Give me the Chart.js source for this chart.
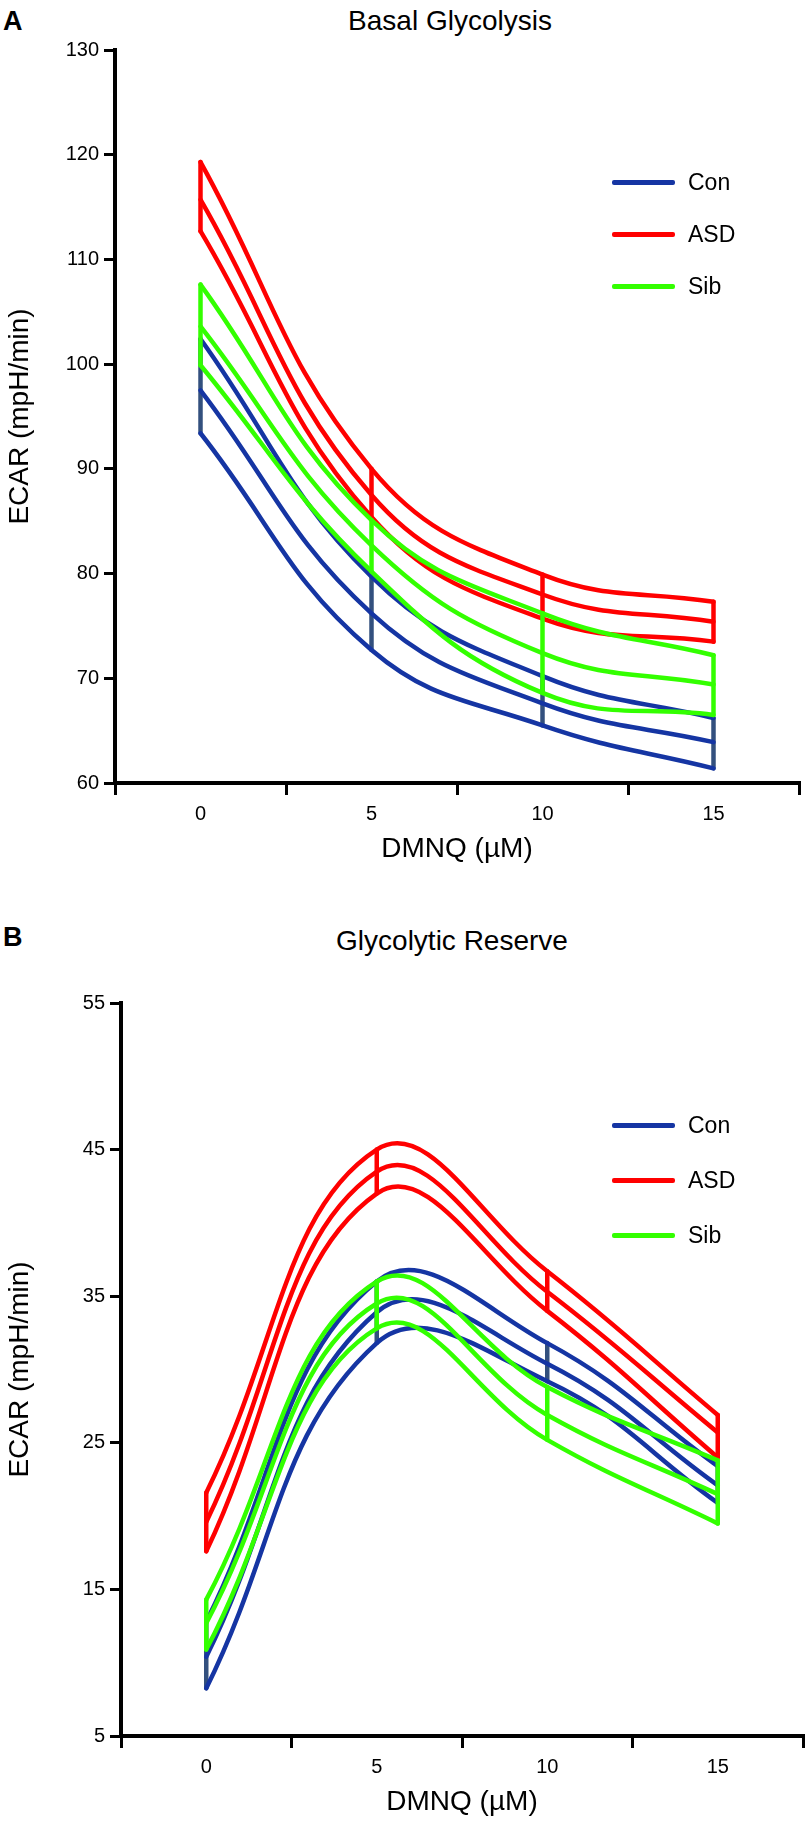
<!DOCTYPE html>
<html>
<head>
<meta charset="utf-8">
<script src="https://cdn.jsdelivr.net/npm/chart.js@4.4.1/dist/chart.umd.min.js"></script>
<style>
  html, body { margin: 0; padding: 0; background: #ffffff; }
  #wrap { position: relative; width: 810px; height: 1823px; overflow: hidden; }
  .abs { position: absolute; }
  .letter { font-family: "Liberation Sans", Arial, sans-serif; font-weight: bold; font-size: 27px; line-height: 1; color: #000; }
  .ctitle { font-family: "Liberation Sans Narrow", "Liberation Sans", Arial, sans-serif; font-size: 28px; line-height: 1; color: #000; white-space: nowrap; transform: translateX(-50%); }
  .leg-line { position: absolute; height: 5px; border-radius: 2px; }
  .leg-text { position: absolute; font-family: "Liberation Sans", Arial, sans-serif; font-size: 23px; line-height: 1; color: #000; }
</style>
</head>
<body>
<div id="wrap">
  <div class="abs letter" style="left:3px;top:8px;">A</div>
  <div class="abs ctitle" style="left:450px;top:7px;">Basal Glycolysis</div>
  <div class="abs" style="left:0;top:0;width:810px;height:870px;"><canvas id="chartA" width="810" height="870"></canvas></div>
  <div id="legendA"></div>

  <div class="abs letter" style="left:3px;top:924px;">B</div>
  <div class="abs ctitle" style="left:452px;top:927px;">Glycolytic Reserve</div>
  <div class="abs" style="left:0;top:880px;width:810px;height:943px;"><canvas id="chartB" width="810" height="943"></canvas></div>
  <div id="legendB"></div>
</div>
<script>
// ---------------- data ----------------
const xValues = [0, 5, 10, 15];
const xTickLabels = [0, 5, 10, 15];
const seriesNames = ['Con', 'ASD', 'Sib'];
const seriesColors = ['#1535a3', '#ff0000', '#33ff00'];
const connectorColors = ['#33507e', '#ff0000', '#33ff00'];

// Panel A: Basal Glycolysis (ECAR, mpH/min)
const yTicksA = [60, 70, 80, 90, 100, 110, 120, 130];
const aConUpper = [102.4, 79.7, 70.2, 66.2];
const aConMean  = [97.5, 76.2, 67.6, 63.9];
const aConLower = [93.4, 72.7, 65.5, 61.4];
const aAsdUpper = [119.3, 90.0, 79.9, 77.3];
const aAsdMean  = [115.7, 87.5, 78.0, 75.4];
const aAsdLower = [112.7, 85.4, 75.7, 73.5];
const aSibUpper = [107.6, 85.1, 76.2, 72.2];
const aSibMean  = [103.6, 82.7, 72.4, 69.4];
const aSibLower = [99.9, 80.2, 68.6, 66.5];

// Panel B: Glycolytic Reserve (ECAR, mpH/min)
const yTicksB = [5, 15, 25, 35, 45, 55];
const bConUpper = [12.8, 36.0, 31.8, 23.4];
const bConMean  = [10.4, 33.9, 30.4, 22.1];
const bConLower = [8.25, 31.8, 29.2, 20.9];
const bAsdUpper = [21.6, 45.0, 36.7, 26.9];
const bAsdMean  = [19.6, 43.5, 35.3, 25.7];
const bAsdLower = [17.6, 42.0, 34.0, 24.0];
const bSibUpper = [14.3, 36.0, 28.8, 23.8];
const bSibMean  = [12.7, 34.5, 26.9, 21.5];
const bSibLower = [10.9, 32.8, 25.2, 19.5];

// ---------------- helpers ----------------
function buildDatasets(groups) {
  const ds = [];
  groups.forEach((g, gi) => {
    const ord = 3 - gi; // Con drawn first, Sib on top
    [g.upper, g.mean, g.lower].forEach(arr => {
      ds.push({
        data: xValues.map((x, i) => ({ x: x, y: arr[i] })),
        borderColor: seriesColors[gi],
        borderWidth: 4.5,
        pointRadius: 0,
        tension: 0.42,
        fill: false,
        order: ord,
        borderCapStyle: 'round',
        borderJoinStyle: 'round'
      });
    });
    xValues.forEach((x, i) => {
      ds.push({
        data: [{ x: x, y: g.lower[i] }, { x: x, y: g.upper[i] }],
        borderColor: connectorColors[gi],
        borderWidth: 4.5,
        pointRadius: 0,
        tension: 0,
        fill: false,
        order: ord,
        borderCapStyle: 'round'
      });
    });
  });
  return ds;
}

function makeChart(canvasId, groups, yTicks, padTop, padRight, xAxisH, yAxisW) {
  const yMin = yTicks[0], yMax = yTicks[yTicks.length - 1];
  const yStep = yTicks[1] - yTicks[0];
  return new Chart(document.getElementById(canvasId), {
    type: 'line',
    data: { datasets: buildDatasets(groups) },
    options: {
      responsive: false,
      animation: false,
      devicePixelRatio: 1,
      layout: { padding: { top: padTop, right: padRight, bottom: 0, left: 0 } },
      plugins: { legend: { display: false }, tooltip: { enabled: false }, title: { display: false } },
      scales: {
        x: {
          type: 'linear',
          min: -2.5, max: 17.5,
          afterFit: s => { s.height = xAxisH; },
          border: { display: true, color: '#000', width: 4 },
          grid: {
            display: true, drawOnChartArea: false, drawTicks: true,
            tickLength: 12, lineWidth: 3,
            tickColor: ctx => (ctx.tick && xTickLabels.includes(ctx.tick.value)) ? 'rgba(0,0,0,0)' : '#000'
          },
          ticks: {
            stepSize: 2.5, autoSkip: false, maxRotation: 0, padding: 7,
            color: '#000',
            font: { family: '"Liberation Sans", Arial, sans-serif', size: 20 },
            callback: v => xTickLabels.includes(v) ? String(v) : ''
          },
          title: {
            display: true, text: 'DMNQ (\u00B5M)', color: '#000',
            font: { family: '"Liberation Sans Narrow", "Liberation Sans", Arial, sans-serif', size: 28 },
            padding: { top: 0, bottom: 4 }
          }
        },
        y: {
          type: 'linear',
          min: yMin, max: yMax,
          afterFit: s => { s.width = yAxisW; },
          border: { display: true, color: '#000', width: 4 },
          grid: {
            display: true, drawOnChartArea: false, drawTicks: true,
            tickLength: 11, lineWidth: 3, tickColor: '#000'
          },
          ticks: {
            stepSize: yStep, padding: 5, color: '#000',
            font: { family: '"Liberation Sans", Arial, sans-serif', size: 20 }
          },
          title: {
            display: true, text: 'ECAR (mpH/min)', color: '#000',
            font: { family: '"Liberation Sans Narrow", "Liberation Sans", Arial, sans-serif', size: 28 },
            padding: { top: 3, bottom: 0 }
          }
        }
      }
    }
  });
}

function makeLegend(containerId, lineLeft, textLeft, yCenters) {
  const c = document.getElementById(containerId);
  seriesNames.forEach((name, i) => {
    const ln = document.createElement('div');
    ln.className = 'leg-line';
    ln.style.left = lineLeft + 'px';
    ln.style.width = '63px';
    ln.style.top = (yCenters[i] - 2.5) + 'px';
    ln.style.background = seriesColors[i];
    c.appendChild(ln);
    const tx = document.createElement('div');
    tx.className = 'leg-text';
    tx.style.left = textLeft + 'px';
    tx.style.top = (yCenters[i] - 11.5) + 'px';
    tx.textContent = name;
    c.appendChild(tx);
  });
}

makeChart('chartA', [
  { upper: aConUpper, mean: aConMean, lower: aConLower },
  { upper: aAsdUpper, mean: aAsdMean, lower: aAsdLower },
  { upper: aSibUpper, mean: aSibMean, lower: aSibLower }
], yTicksA, 50, 11, 87, 115);

makeChart('chartB', [
  { upper: bConUpper, mean: bConMean, lower: bConLower },
  { upper: bAsdUpper, mean: bAsdMean, lower: bAsdLower },
  { upper: bSibUpper, mean: bSibMean, lower: bSibLower }
], yTicksB, 123, 4, 87, 121);

makeLegend('legendA', 612, 688, [182, 234, 286]);
makeLegend('legendB', 612, 688, [1125, 1180, 1235]);
</script>
</body>
</html>
